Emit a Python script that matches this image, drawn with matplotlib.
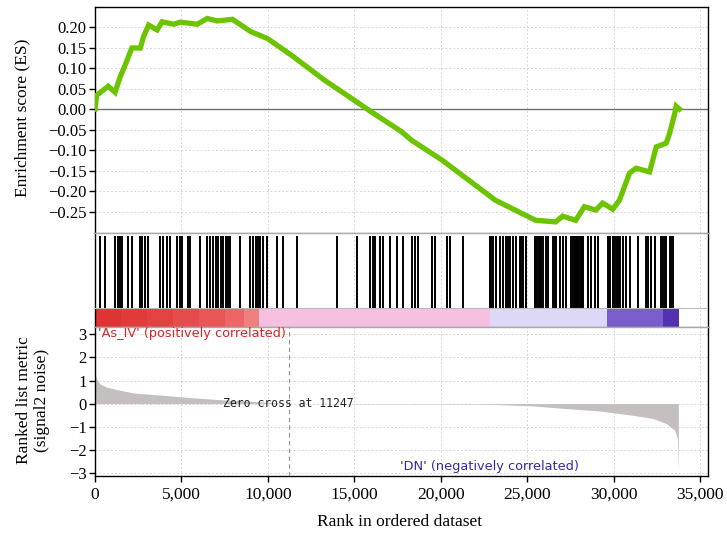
import matplotlib
matplotlib.use('Agg')
import matplotlib.pyplot as plt
from matplotlib.ticker import FuncFormatter

# ---------------- data ----------------
es_rank = [0, 100, 470, 760, 1160, 1450, 1740, 2130, 2620, 2800, 3100, 3590, 3880,
           4540, 4940, 5910, 6490, 7070, 7950, 9010, 9980, 11340, 13260, 15990,
           17730, 18310, 20060, 23150, 25480, 26640, 27040, 27800, 28300, 28960,
           29360, 29940, 30330, 30910, 31290, 32070, 32460, 33030, 33230, 33530,
           33610, 33800]
es_value = [0.0, 0.034, 0.046, 0.056, 0.041, 0.078, 0.107, 0.149, 0.149, 0.176,
            0.205, 0.193, 0.213, 0.207, 0.212, 0.207, 0.221, 0.215, 0.219, 0.189,
            0.172, 0.132, 0.071, -0.007, -0.055, -0.076, -0.124, -0.222, -0.271,
            -0.275, -0.261, -0.271, -0.238, -0.246, -0.229, -0.244, -0.222,
            -0.156, -0.144, -0.153, -0.092, -0.083, -0.059, -0.010, 0.007, 0.0]

hits = [289, 578, 1156, 1349, 1445, 1541, 1927, 2119, 2601, 2698, 2890, 3083,
        3757, 3950, 4143, 4335, 4720, 4913, 5009, 5395, 5491, 6069, 6454, 6647,
        6840, 6994, 7128, 7264, 7417, 7553, 7668, 7803, 8381, 8959, 9151, 9287,
        9402, 9537, 9729, 9922, 10500, 10885, 11656, 13969, 15125, 15895, 16050,
        16185, 16473, 16665, 17051, 17436, 17821, 18305, 18496, 18687, 19462,
        19652, 20329, 20520, 21288, 22831, 22929, 23022, 23218, 23409, 23600,
        23796, 23889, 23987, 24178, 24374, 24565, 24663, 24756, 24952, 25432,
        25530, 25623, 25721, 25819, 25912, 26108, 26201, 26491, 26588, 26686,
        26877, 27069, 27265, 27554, 27660, 27720, 27780, 27840, 27900, 27960,
        28020, 28080, 28140, 28200, 28513, 28710, 28900, 29091, 29670, 29740,
        29805, 29960, 30056, 30190, 30270, 30345, 30537, 30733, 30923, 31404,
        31889, 31982, 32178, 32368, 32754, 32847, 32946, 33042, 33235, 33331,
        33426]

band_start = [0, 1500, 3000, 4500, 6000, 7500, 8600, 9500, 22830, 29600, 32850]
band_end = [1500, 3000, 4500, 6000, 7500, 8600, 9500, 22830, 29600, 32850, 33780]
band_color = ['#de3434', '#e03a3a', '#e24242', '#e54c4c', '#e85656', '#ec6464',
              '#f08080', '#f5c0e2', '#dcd8f5', '#7a5ccc', '#5232b0']

metric_rank = [0, 96, 289, 674, 1252, 2216, 3564, 5491, 7225, 8500, 9600, 11247,
               15000, 20000, 22735, 25336, 27263, 29190, 31117, 32273, 33044,
               33526, 33680, 33737]
metric_value = [1.36, 1.07, 0.85, 0.71, 0.61, 0.46, 0.38, 0.26, 0.17, 0.12, 0.07,
                0.0, -0.01, -0.02, -0.03, -0.10, -0.22, -0.32, -0.51, -0.65,
                -0.87, -1.16, -1.52, -2.85]

zero_cross = 11247
x_ticks = [0, 5000, 10000, 15000, 20000, 25000, 30000, 35000]
es_ticks = [0.20, 0.15, 0.10, 0.05, 0.00, -0.05, -0.10, -0.15, -0.20, -0.25]
metric_ticks = [3, 2, 1, 0, -1, -2, -3]

# ---------------- figure ----------------
W_PX, H_PX = 727, 539
fig = plt.figure(figsize=(W_PX / 100, H_PX / 100), dpi=100)
L = 95 / W_PX
W = (708 - 95) / W_PX
ax1 = fig.add_axes([L, 1 - 233 / H_PX, W, 226 / H_PX])
ax2 = fig.add_axes([L, 1 - 327 / H_PX, W, 94 / H_PX], sharex=ax1)
ax3 = fig.add_axes([L, 1 - 476 / H_PX, W, 149 / H_PX], sharex=ax1)

serif = 'Liberation Serif'
grid_kw = dict(color='#d8d8d8', linestyle=(0, (2, 2)), linewidth=0.7)
sep = '#a8a8a8'

for ax in (ax1, ax2, ax3):
    ax.set_xlim(0, 35450)
    for s in ax.spines.values():
        s.set_linewidth(1.0)
    for xt in x_ticks:
        ax.axvline(xt, zorder=0, **grid_kw)

# ES panel
ax1.set_ylim(-0.302, 0.249)
for yt in es_ticks:
    ax1.axhline(yt, zorder=0, **grid_kw)
ax1.axhline(0, color='#707070', linewidth=1.0, zorder=1)
ax1.plot(es_rank, es_value, color='#6cc400', linewidth=3.8,
         solid_joinstyle='miter', zorder=3)
ax1.set_yticks(es_ticks)
ax1.yaxis.set_major_formatter(FuncFormatter(lambda v, p: f'{v:.2f}'.replace('-', '\u2212')))
ax1.spines['bottom'].set_color(sep)
ax1.tick_params(axis='x', bottom=False, labelbottom=False)

# hits + colour bar panel
ax2.set_ylim(0, 1)
ax2.vlines(hits, 0.2, 0.965, color='black', linewidth=1.4, zorder=3)
for s0, s1, c in zip(band_start, band_end, band_color):
    ax2.axvspan(s0, s1, ymin=0.0, ymax=0.2, color=c, linewidth=0, zorder=2)
ax2.axhline(0.2, color='#bbbbbb', linewidth=0.8, zorder=4)
ax2.set_yticks([])
ax2.spines['top'].set_color(sep)
ax2.spines['bottom'].set_color(sep)
ax2.tick_params(axis='x', bottom=False, labelbottom=False)

# ranked metric panel
ax3.set_ylim(-3.14, 3.32)
for yt in metric_ticks:
    ax3.axhline(yt, zorder=0, **grid_kw)
ax3.fill_between(metric_rank, metric_value, 0, color='#c4c0c0', linewidth=0, zorder=2)
ax3.axvline(zero_cross, color='#909090', linestyle=(0, (4, 3)), linewidth=0.8, zorder=3)
ax3.text(7400, 0.0, f'Zero cross at {zero_cross}', fontsize=8.3,
         family='DejaVu Sans Mono', va='center', ha='left', color='#222222', zorder=4)
ax3.text(150, 3.03, "'As_IV' (positively correlated)", fontsize=9.3,
         family='DejaVu Sans', color='#d02828', va='center', ha='left')
ax3.text(17650, -2.72, "'DN' (negatively correlated)", fontsize=9.3,
         family='DejaVu Sans', color='#3826a8', va='center', ha='left')
ax3.set_yticks(metric_ticks)
ax3.yaxis.set_major_formatter(FuncFormatter(lambda v, p: f'{int(v)}'.replace('-', '\u2212')))
ax3.spines['top'].set_color(sep)
ax3.set_xticks(x_ticks)
ax3.xaxis.set_major_formatter(FuncFormatter(lambda v, p: f'{int(v):,}'))

for ax in (ax1, ax3):
    ax.tick_params(axis='y', direction='out', length=4, width=1.0,
                   labelsize=12, pad=2)
    for lab in ax.get_yticklabels():
        lab.set_family(serif)
ax3.tick_params(axis='x', direction='out', length=4, width=1.0, labelsize=12.5, pad=4)
for lab in ax3.get_xticklabels():
    lab.set_family(serif)

fig.text(22 / W_PX, 1 - 118 / H_PX, 'Enrichment score (ES)', rotation=90,
         ha='center', va='center', fontsize=12.5, family=serif)
fig.text(33 / W_PX, 1 - 400 / H_PX, 'Ranked list metric\n(signal2 noise)', rotation=90,
         ha='center', va='center', fontsize=12.5, family=serif, linespacing=1.15)
fig.text(400 / W_PX, 1 - 522 / H_PX, 'Rank in ordered dataset',
         ha='center', va='center', fontsize=12.5, family=serif)

fig.savefig('out.png', dpi=100)
